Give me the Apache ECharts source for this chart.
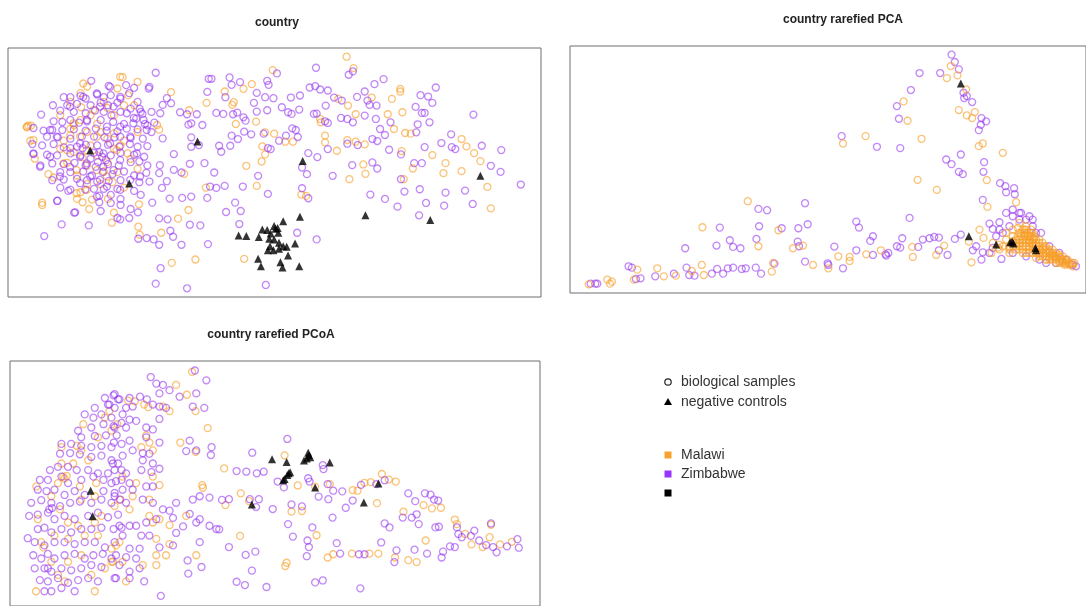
<!DOCTYPE html>
<html>
<head>
<meta charset="utf-8">
<script src="https://cdn.jsdelivr.net/npm/echarts@6/dist/echarts.min.js"></script>
<style>
  html, body { margin: 0; padding: 0; background: #fff; }
  #main { width: 1086px; height: 606px; }
</style>
</head>
<body>
<div id="main"></div>
<script>
// ordination scores (arbitrary units, no axes shown)

// ---- "country" ----
const countryMalawi = [
  [97.2,71.8],[99.2,68.4],[76.0,67.8],[70.0,63.6],[67.6,62.2],[64.8,58.2],[64.4,57.4],[57.0,58.0],[62.2,61.4],[71.2,52.4],
  [73.0,45.0],[73.8,42.6],[72.8,40.5],[79.6,46.4],[81.8,46.4],[89.6,53.2],[91.0,48.2],[91.0,46.2],[94.8,59.2],[97.6,57.2],
  [99.8,54.6],[94.4,43.7],[98.0,35.2],[102.0,39.6],[102.6,36.8],[102.4,45.6],[104.4,59.6],[109.0,54.6],[110.2,59.2],[112.6,62.2],
  [112.6,61.4],[113.2,55.2],[110.8,50.2],[114.0,49.0],[115.6,48.8],[113.0,43.6],[121.8,42.4],[125.6,40.0],[125.0,37.0],[130.2,37.6],
  [130.2,47.2],[131.6,45.0],[133.8,43.0],[135.6,40.6],[137.6,32.9],[138.6,26.5],[116.2,38.4],[113.6,35.2],[85.6,30.2],[84.2,30.6],
  [71.4,33.2],[67.8,11.4],[53.8,11.2],[47.0,10.2],[44.0,19.2],[48.8,23.4],[51.8,26.0],[37.6,27.7],[37.4,21.0],[37.8,18.6],
  [30.4,25.2],[29.8,22.2],[9.8,28.2],[6.6,51.2],[5.8,51.2],[46.8,61.2],[52.0,55.8],[42.8,51.4],[43.4,50.0],[50.6,36.8],
  [56.8,32.7],[68.4,39.2],[65.4,51.7],[73.8,49.2],[76.4,48.8],[89.8,52.2],[97.4,46.9],[99.8,46.4],
  [32.9,65.7],[37.2,64.3],[31.4,62.3],[34.5,60.3],[22.7,62.9],[20.8,60.9],[17.9,58.3],[21.0,56.7],[23.7,54.3],[28.5,56.5],
  [33.3,57.3],[36.2,57.3],[5.4,50.7],[6.4,46.7],[7.7,41.3],[11.6,36.7],[13.1,35.7],[17.0,40.1],[17.9,48.3],[22.7,49.3],
  [25.6,51.7],[30.4,48.9],[32.3,45.3],[34.3,42.9],[21.4,41.7],[18.9,43.3],[23.7,45.3],[28.5,47.3],[19.8,36.3],[22.7,33.7],
  [26.6,33.7],[30.0,34.3],[33.3,32.7],[20.8,31.3],[19.8,29.3],[24.1,29.1],[21.4,28.3],[28.7,29.3],[9.8,27.5],[23.3,26.3],
  [35.2,41.3],[37.2,38.3],[31.4,37.3],[16.0,46.7],[15.0,44.3],[27.5,37.5],[18.9,51.3],[20.8,52.9],[15.0,54.3],[30.4,54.3],
  [27.5,58.3],[37.2,49.3],[33.3,46.7],[25.6,42.3],[22.7,39.3],[28.5,40.3],[17.9,50.3],[26.6,49.3],[30.4,44.3],
  [32.2,65.8],[21.6,63.8],[24.5,55.9],[18.8,51.9],[25.5,47.9],[16.9,43.9],[22.6,43.9],[31.2,43.9],[19.7,37.9],[25.5,37.9],
  [22.6,32.0],[19.7,31.0],[28.4,36.0],[5.4,50.9],[7.3,46.9],[20.7,47.9],[15.9,39.9]
];
const countryZimbabwe = [
  [42.4,67.0],[57.6,65.2],[58.4,65.2],[63.6,65.6],[66.6,64.2],[64.2,63.4],[74.4,64.6],[74.8,63.4],[77.2,66.8],[88.4,68.5],
  [97.8,66.4],[99.0,67.4],[105.2,63.6],[107.8,65.1],[122.8,62.6],[40.6,62.8],[45.6,59.4],[44.4,57.4],[43.7,54.9],[46.8,57.9],
  [57.2,61.3],[62.4,59.7],[71.4,61.0],[73.8,59.7],[70.6,58.0],[76.2,59.4],[81.2,59.6],[83.8,60.2],[86.6,62.6],[88.2,63.0],
  [89.6,62.0],[91.8,61.7],[93.6,59.6],[95.8,58.7],[100.2,59.8],[102.4,61.4],[103.2,58.7],[103.8,57.4],[105.8,57.2],[118.4,60.3],
  [120.6,59.9],[121.8,58.0],[117.0,56.8],[118.8,55.0],[119.6,55.0],[133.6,54.5],[37.8,56.2],[38.6,54.7],[36.1,53.5],[49.4,55.2],
  [51.4,54.6],[54.2,54.6],[51.8,51.5],[55.8,51.4],[52.6,51.9],[59.8,55.0],[61.8,54.7],[64.6,54.6],[65.8,55.1],[67.6,53.7],
  [68.2,52.7],[71.4,55.4],[74.4,55.8],[78.6,56.7],[80.4,55.2],[81.4,54.7],[83.6,56.0],[87.8,54.7],[91.2,57.2],[88.6,54.8],
  [91.0,52.5],[91.8,52.0],[95.6,53.5],[97.4,53.2],[99.0,52.2],[102.4,54.2],[105.6,53.2],[106.8,50.2],[109.8,52.2],[117.6,51.6],
  [121.0,52.2],[44.4,47.4],[47.6,42.7],[52.6,47.7],[52.6,44.9],[54.8,45.4],[60.6,45.2],[61.2,43.4],[63.8,45.2],[64.2,48.2],
  [66.0,47.2],[67.8,49.4],[69.8,48.6],[73.4,48.8],[74.6,44.5],[75.4,44.2],[77.8,46.7],[79.8,48.2],[81.6,50.4],[82.6,49.9],
  [83.2,47.8],[86.2,43.0],[88.8,41.8],[91.8,44.2],[97.4,45.8],[100.4,45.4],[104.6,47.2],[106.0,46.6],[108.2,48.4],[109.4,44.0],
  [112.8,42.6],[117.2,49.2],[119.6,44.8],[124.4,46.0],[127.2,48.6],[127.4,44.8],[128.4,44.2],[136.0,45.2],[141.6,43.9],[116.6,40.0],
  [118.8,40.0],[104.6,40.2],[106.0,38.4],[98.8,39.4],[93.2,36.2],[85.8,36.7],[84.4,38.7],[138.6,39.2],[141.4,37.4],[147.2,33.6],
  [112.8,35.2],[113.8,31.5],[118.2,32.2],[125.6,31.2],[131.2,31.8],[133.4,27.8],[125.2,27.3],[120.0,28.1],[111.8,27.0],[108.2,29.3],
  [104.0,30.6],[118.0,24.4],[86.2,29.5],[84.4,32.5],[74.6,30.8],[71.8,36.2],[67.4,33.0],[62.2,33.2],[58.0,33.0],[59.2,37.2],
  [56.4,40.0],[52.2,39.8],[49.8,37.2],[47.6,38.0],[45.6,34.6],[44.2,32.6],[46.4,29.4],[50.0,29.6],[52.6,30.0],[59.8,32.6],
  [57.2,29.6],[62.6,25.4],[65.2,28.2],[66.8,25.7],[43.6,39.4],[43.4,37.0],[41.4,28.2],[43.4,23.5],[45.8,23.2],[34.8,23.6],
  [31.4,23.6],[32.2,23.2],[15.4,21.7],[23.2,21.4],[10.4,18.2],[19.0,25.2],[14.2,28.8],[46.6,19.8],[47.4,18.0],[41.8,17.2],
  [39.8,17.6],[37.4,17.4],[43.4,15.6],[49.8,15.6],[57.4,15.8],[52.2,21.6],[55.2,21.4],[66.4,21.8],[88.6,17.2],[83.0,19.2],
  [42.4,4.0],[43.8,8.6],[51.4,2.6],[74.0,3.6],
  [23.9,64.6],[28.9,63.1],[33.9,63.3],[36.2,62.5],[40.4,62.3],[16.0,59.7],[17.9,59.7],[20.8,60.1],[22.3,59.3],[25.6,60.5],
  [27.5,59.7],[29.5,60.3],[32.3,59.3],[34.8,60.9],[12.9,57.3],[17.0,57.3],[19.8,57.7],[23.7,57.3],[26.6,58.1],[28.7,57.3],
  [31.4,58.1],[37.2,58.3],[35.2,56.3],[9.5,54.5],[15.0,55.7],[18.9,55.3],[22.3,54.9],[25.0,55.7],[27.5,55.3],[29.7,54.3],
  [32.3,55.3],[38.1,55.3],[41.2,55.3],[13.1,52.5],[15.6,52.3],[17.9,52.9],[20.4,52.1],[22.7,52.5],[26.6,52.9],[30.2,52.3],
  [33.3,51.7],[36.8,53.3],[39.3,51.7],[42.0,52.1],[7.3,50.5],[10.2,49.7],[12.7,49.9],[15.6,49.9],[18.9,50.1],[22.3,49.7],
  [25.2,50.3],[28.3,49.7],[31.4,49.5],[34.1,50.3],[37.2,50.1],[40.0,51.3],[11.2,47.9],[14.3,47.7],[17.9,47.3],[21.2,47.9],
  [24.7,47.9],[27.7,47.7],[30.6,47.7],[35.2,47.5],[38.7,47.3],[41.2,49.3],[7.0,45.7],[9.8,45.3],[13.1,45.7],[16.0,44.7],
  [19.8,44.9],[22.3,45.5],[25.6,45.3],[28.7,45.5],[32.0,44.9],[35.0,45.7],[37.2,44.9],[40.0,45.1],[7.3,42.7],[11.2,42.5],
  [14.1,42.3],[17.9,42.9],[20.8,42.3],[24.7,43.1],[27.0,41.9],[29.5,42.3],[32.3,43.1],[36.2,42.5],[39.1,41.9],[9.3,39.3],
  [12.7,39.9],[16.0,39.7],[19.1,40.1],[22.3,39.3],[25.8,40.3],[28.7,39.7],[31.8,39.3],[35.2,40.3],[37.7,40.5],[40.0,39.3],
  [15.0,37.3],[17.9,37.3],[21.6,37.5],[24.1,36.3],[27.2,37.3],[30.0,36.7],[33.3,37.5],[36.2,36.3],[39.7,37.1],[12.7,34.9],
  [16.0,35.1],[19.8,35.3],[22.7,34.9],[25.6,34.5],[28.9,34.7],[32.3,34.9],[37.7,34.3],[40.6,34.5],[15.0,32.7],[17.9,32.1],
  [22.2,32.1],[24.7,32.3],[27.5,32.3],[31.4,32.3],[36.2,31.7],[14.1,28.7],[17.3,31.7],[26.2,30.3],[29.5,30.5],[32.3,29.3],
  [38.1,30.5],[26.2,28.3],[29.5,28.1],[32.3,27.5],[19.3,25.3],[26.6,25.7],[35.2,26.3],[37.3,25.3],[25.2,38.9],[23.7,41.3],
  [28.1,40.9],[26.2,43.3],[21.4,44.5],[17.9,44.5],
  [29.3,62.8],[25.5,60.8],[21.6,59.8],[32.2,59.8],[17.8,56.9],[26.4,56.9],[30.3,56.9],[34.1,54.9],[22.6,52.9],[28.4,50.9],
  [32.2,50.9],[36.0,51.9],[38.9,52.9],[39.8,49.9],[12.1,49.9],[14.0,47.9],[32.2,47.9],[35.1,47.9],[20.7,45.9],[29.3,45.9],
  [37.0,42.9],[12.1,41.9],[20.7,41.9],[27.4,42.9],[32.2,40.9],[17.8,38.9],[22.6,39.9],[27.4,38.9],[30.3,37.9],[23.6,36.0],
  [26.4,35.0],[20.7,34.0],[28.4,33.0],[25.5,30.0],[32.2,32.0],[35.1,35.0],[37.9,36.0],[14.9,36.0],[9.2,38.9],[7.3,42.9]
];
const countryControls = [
  [23.6,43.8],[34.8,33.9],[54.4,46.5],[84.6,40.6],[83.8,24.0],[102.6,24.4],[121.2,23.0],[135.6,36.2],[66.2,18.4],[68.4,18.2],
  [72.0,17.9],[73.0,20.2],[74.4,20.0],[76.4,21.2],[76.8,20.4],[79.0,22.6],[77.6,19.2],[75.0,17.4],[76.4,17.2],[77.8,16.2],
  [80.0,15.0],[82.4,16.0],[75.2,15.2],[76.2,14.0],[77.8,14.4],[79.0,15.2],[74.6,14.0],[71.8,11.4],[80.4,12.4],[72.6,9.2],
  [78.2,10.4],[78.8,8.8],[83.6,9.2],[77.4,20.6],[75.4,19.0]
];

// ---- "country rarefied PCA" ----
const pcaMalawi = [
  [114.4,68.0],[113.2,64.4],[116.4,65.2],[119.0,61.0],[100.2,57.4],[101.4,51.6],[116.8,54.8],[119.2,53.2],[121.6,54.2],[120.8,52.4],
  [88.8,47.0],[82.0,44.8],[105.6,46.2],[122.8,44.0],[124.0,44.8],[130.0,42.0],[125.2,33.8],[104.4,33.9],[110.2,30.9],[125.4,25.8],
  [134.0,27.2],[53.4,27.5],[39.8,19.7],[62.6,18.8],[56.6,14.0],[67.0,13.4],[70.0,14.2],[61.0,9.0],[73.0,8.4],[80.6,11.0],
  [84.0,9.6],[93.4,12.8],[89.0,11.6],[102.8,13.8],[103.0,10.8],[110.0,11.4],[112.4,14.2],[120.6,9.2],[123.0,19.0],[124.2,16.5],
  [119.8,15.4],[20.2,7.0],[26.2,7.4],[28.2,5.0],[31.8,5.2],[39.6,8.4],[40.2,5.4],[36.6,6.6],[60.6,6.4],[77.6,7.4],
  [84.0,10.8],[5.6,2.6],[11.2,4.0],[12.6,3.4],[12.0,2.8],[19.2,4.0],[128.6,13.6],[126.6,12.0],
  [127.0,15.0],[129.0,14.5],[131.0,16.0],[133.0,17.0],[135.0,18.0],[136.5,19.0],[134.0,15.0],[136.0,16.0],[138.0,17.0],[139.0,18.0],
  [137.0,14.0],[139.0,14.5],[141.0,15.0],[140.0,13.0],[142.0,13.5],[143.0,12.0],[144.0,12.5],[145.0,11.5],[146.0,10.5],[147.0,10.0],
  [148.0,9.5],[149.0,9.0],[150.0,8.5],[151.0,8.0],[132.0,13.5],[135.0,13.0],[138.0,12.0],[141.0,11.5],[144.0,10.5],[147.0,9.0],
  [137.0,20.0],[135.0,21.0],[133.0,19.0],[131.0,18.0],[138.0,15.5],[139.5,16.5],[142.5,14.0],[145.5,11.0],[148.5,8.5],[149.5,10.0],
  [151.5,9.0],[130.0,14.0],[136.0,12.0],[140.0,10.5],[143.0,10.0],[133.0,15.5],[136.5,17.5],[134.5,19.5],[138.5,19.0],[141.5,12.5],
  [144.5,11.5],[147.5,10.5],[129.0,13.0],[132.0,12.0],
  [136.0,19.0],[137.0,19.0],[135.5,18.0],[136.5,18.0],[137.5,18.0],[138.5,18.0],[134.5,17.0],[135.5,17.0],[136.5,17.0],[137.5,17.0],
  [138.5,17.0],[139.5,17.0],[134.0,16.0],[135.0,16.0],[137.0,16.0],[138.0,16.0],[139.0,16.0],[140.0,16.0],[141.0,16.0],[133.0,15.0],
  [135.0,15.0],[136.0,15.0],[137.0,15.0],[138.0,15.0],[139.0,15.0],[140.0,15.0],[142.0,15.0],[132.0,14.0],[133.0,14.0],[134.0,14.0],
  [135.0,14.0],[136.0,14.0],[138.0,14.0],[139.0,14.0],[140.0,14.0],[141.0,14.0],[143.0,14.0],[132.0,13.0],[134.0,13.0],[136.0,13.0],
  [138.0,13.0],[142.0,13.0],[144.0,13.0],[137.0,12.0],[139.0,12.0],[141.0,12.0],[145.0,12.0],[142.0,11.0],[144.0,11.0],[146.0,11.0],
  [147.0,11.0],[145.0,10.0],[148.0,10.0],[149.0,10.0],[148.0,9.0],[150.0,9.0],
  [139.0,13.0],[141.0,13.0],[143.0,13.0],[145.0,13.0],[140.0,12.0],[142.0,12.0],[144.0,12.0],[146.0,12.0],[141.0,11.0],[143.0,11.0],
  [145.0,11.0],[147.0,11.5],[148.0,11.0],[143.0,10.0],[144.0,10.0],[146.0,10.0],[146.0,9.0],[147.0,9.5],[149.0,9.5],[151.0,9.0],
  [149.0,8.5],[150.5,8.5]
];
const pcaZimbabwe = [
  [114.6,71.4],[115.6,69.2],[116.8,67.0],[105.0,65.9],[111.2,65.9],[102.4,60.8],[118.2,60.0],[119.2,59.0],[118.4,58.4],[120.8,57.2],
  [98.2,56.0],[98.8,52.2],[123.6,52.4],[125.0,51.4],[123.4,50.4],[122.8,48.8],[81.6,47.0],[92.2,43.8],[99.2,43.4],[117.4,41.5],
  [113.0,40.0],[114.6,38.6],[124.4,39.2],[116.8,36.3],[118.0,35.6],[124.2,36.3],[129.2,32.9],[130.8,32.0],[133.4,31.4],[131.0,30.2],
  [133.6,29.6],[124.0,27.9],[102.0,22.5],[86.0,21.4],[86.8,19.6],[70.6,26.9],[56.6,25.2],[59.2,24.8],[45.0,19.6],[56.8,20.0],
  [68.6,19.4],[71.4,20.6],[63.6,19.4],[48.0,15.8],[49.0,13.8],[51.2,13.4],[44.0,14.2],[56.0,16.2],[68.4,15.4],[68.8,14.0],
  [34.6,13.4],[79.4,13.9],[91.0,17.0],[90.2,15.6],[95.6,12.0],[94.8,11.6],[98.2,14.0],[99.2,13.6],[99.8,16.4],[106.0,16.0],
  [108.0,16.4],[109.4,16.8],[110.8,16.6],[110.8,12.8],[113.4,11.4],[115.6,16.2],[117.4,17.5],[104.6,13.8],[17.6,8.0],[18.6,7.6],
  [35.0,7.6],[35.8,5.4],[37.4,5.2],[31.2,5.8],[42.6,5.8],[44.2,7.2],[46.0,5.8],[47.4,7.4],[49.0,7.6],[51.6,7.2],
  [52.8,7.4],[55.8,7.6],[57.4,5.8],[61.4,8.8],[70.6,9.4],[77.4,8.9],[77.6,8.4],[82.0,7.4],[86.0,12.8],[91.0,11.4],
  [95.0,11.2],[121.0,12.8],[123.6,10.0],[129.6,10.2],[126.0,20.8],[127.0,19.2],[129.0,21.2],[6.2,2.8],[7.6,2.8],[8.2,2.8],
  [19.8,4.2],[21.2,4.4],[25.6,5.0],[122.0,14.0],[124.0,12.2],
  [131.0,24.0],[133.0,23.0],[135.0,24.0],[137.0,22.0],[139.0,22.0],[132.0,20.0],[130.0,18.0],[128.0,17.0],[126.0,12.0],[127.0,13.5],
  [133.0,12.0],[137.0,11.0],[141.0,10.0],[143.0,9.0],[146.0,9.0],[149.0,10.0],[151.0,8.5],[152.0,8.0],[135.0,22.0],[139.0,20.0],
  [141.5,18.0],[144.0,14.0],[147.0,12.0],[129.0,19.0],[133.0,25.0],[135.5,24.0],[138.0,23.0],[140.0,18.0]
];
const pcaControls = [
  [117.4,62.8],[119.8,17.0],[128.0,14.5],[132.2,15.2],[133.2,14.8],[132.8,15.4],[139.8,13.5],[140.0,12.8]
];

// ---- "country rarefied PCoA" ----
const pcoaMalawi = [
  [79.0,46.0],[61.6,42.0],[82.8,36.8],[87.8,36.4],[92.0,37.2],[100.0,35.2],[102.0,37.6],[103.8,37.8],[107.0,40.3],[109.0,38.6],
  [111.0,38.0],[105.6,31.4],[98.6,35.4],[113.2,28.8],[119.0,30.8],[121.4,29.8],[124.0,30.0],[119.6,20.0],[128.0,26.4],[128.6,25.0],
  [131.0,22.0],[132.8,18.8],[136.0,18.0],[138.0,21.0],[138.4,24.8],[141.0,18.8],[144.4,19.6],[114.6,14.0],[117.0,13.4],[110.8,14.8],
  [103.4,16.0],[106.0,16.0],[98.4,16.0],[91.4,14.8],[93.0,15.8],[84.0,29.0],[81.0,28.8],[79.6,13.2],[79.2,12.2],[88.2,21.6],
  [66.2,21.4],[68.8,32.0],[66.4,34.4],[62.0,30.8],
  [27.3,57.5],[21.1,55.5],[25.3,51.5],[29.2,53.5],[14.8,48.5],[19.2,48.9],[22.5,44.5],[18.2,43.5],[20.5,47.5],[15.3,39.5],
  [15.7,38.9],[16.3,39.7],[7.6,36.5],[13.8,37.5],[24.8,37.5],[20.1,36.5],[11.9,33.5],[20.5,32.5],[24.4,33.5],[14.4,29.5],
  [8.0,26.5],[16.7,25.5],[19.6,24.5],[24.4,25.5],[9.0,19.5],[9.6,17.9],[12.8,21.5],[16.7,20.5],[21.5,21.5],[25.3,21.5],
  [29.2,17.5],[11.9,13.5],[16.7,13.5],[20.5,15.5],[29.2,13.5],[13.8,9.5],[23.4,9.5],[7.5,4.5],[15.7,7.5],[27.3,11.5],
  [24.4,4.5],[30.1,30.5],[26.3,27.5],[14.8,43.5],
  [34.0,62.7],[35.9,62.5],[38.6,61.5],[39.8,60.7],[47.8,67.5],[50.9,64.5],[52.4,71.5],[28.6,59.5],[30.9,55.5],[39.2,52.1],
  [40.1,49.9],[37.8,48.5],[41.1,47.5],[44.0,60.9],[45.9,59.5],[53.4,59.5],[56.9,54.3],[49.0,49.9],[53.4,47.1],[55.3,36.9],
  [55.5,36.1],[43.0,36.9],[41.1,39.5],[32.4,39.5],[36.3,37.5],[35.3,33.5],[31.5,32.5],[40.1,32.5],[34.4,29.5],[40.1,27.5],
  [41.1,25.5],[43.0,26.5],[45.9,24.7],[50.7,27.5],[31.5,19.5],[32.4,13.5],[33.4,7.5],[42.1,20.5],[45.9,18.9],[42.1,15.5],
  [42.1,12.5],[53.6,15.5],[44.9,15.5],[38.2,12.5],[30.5,18.5],[29.6,13.5]
];
const pcoaZimbabwe = [
  [79.8,51.0],[69.7,46.8],[65.2,41.2],[68.0,41.0],[71.0,40.5],[73.0,41.0],[77.0,38.0],[78.8,36.2],[85.8,39.0],[86.2,38.0],
  [90.0,43.0],[90.2,41.8],[91.4,37.2],[93.0,35.2],[95.6,35.0],[96.6,30.0],[98.6,32.2],[101.0,37.0],[105.4,37.2],[107.8,38.4],
  [114.6,34.4],[116.6,32.0],[119.4,34.4],[121.0,34.0],[122.0,32.5],[123.2,32.2],[113.0,27.0],[115.6,27.0],[117.0,28.0],[117.6,25.0],
  [107.8,25.2],[109.2,24.0],[122.4,24.0],[123.4,24.2],[128.6,24.0],[129.0,22.0],[130.0,21.0],[133.6,23.0],[138.4,25.2],[132.6,21.4],
  [135.0,20.0],[137.0,18.6],[139.0,18.0],[140.0,16.4],[143.0,18.2],[146.0,20.4],[146.4,17.8],[128.0,18.0],[126.6,18.2],[124.6,16.6],
  [124.2,14.8],[120.0,16.0],[116.4,17.2],[111.2,17.0],[110.6,13.4],[106.8,19.4],[100.4,15.8],[102.0,15.8],[95.0,16.0],[94.0,19.2],
  [85.6,20.0],[86.0,18.0],[85.4,15.2],[87.0,24.0],[81.4,21.2],[80.0,25.0],[92.8,27.0],[91.6,32.6],[88.8,33.4],[84.0,30.4],
  [81.0,31.0],[75.6,29.6],[69.0,32.6],[71.6,32.6],[70.8,30.2],[63.0,32.6],[61.0,32.4],[60.2,23.4],[63.0,18.0],[67.8,15.6],
  [70.6,16.6],[69.6,10.8],[65.2,7.4],[67.6,6.4],[73.8,5.8],[87.8,7.2],[90.0,7.8],[100.8,5.4],
  [27.3,63.5],[29.8,64.3],[31.1,63.1],[24.4,60.5],[28.2,61.5],[30.1,60.5],[21.5,58.5],[24.0,57.5],[26.3,58.5],[29.2,57.5],
  [19.6,53.5],[23.4,54.5],[26.9,55.5],[29.8,54.9],[32.1,55.9],[20.5,51.5],[24.4,51.9],[27.6,52.1],[30.7,52.1],[14.8,49.5],
  [17.6,49.5],[20.5,48.9],[23.4,48.5],[26.3,48.9],[29.2,48.5],[32.1,49.5],[14.4,46.5],[17.3,46.7],[20.1,46.3],[23.4,45.5],
  [26.3,45.9],[29.2,44.5],[31.1,43.5],[11.5,41.5],[13.8,42.5],[16.7,42.5],[19.2,41.5],[22.5,41.5],[25.3,40.5],[28.2,40.5],
  [30.1,41.5],[8.6,38.5],[10.9,38.5],[14.8,39.5],[16.7,37.5],[20.5,38.5],[24.0,39.5],[26.9,38.5],[29.2,37.5],[32.1,38.5],
  [8.0,35.5],[10.5,35.1],[12.8,35.5],[15.7,33.9],[18.6,35.1],[21.5,33.9],[26.9,35.1],[30.1,34.5],[6.1,31.5],[9.0,32.3],
  [11.9,31.5],[14.4,30.5],[17.3,31.5],[20.1,31.9],[23.4,31.5],[26.3,32.5],[29.2,31.5],[31.7,32.5],[5.5,27.5],[8.0,27.9],
  [10.9,28.5],[12.8,26.5],[15.7,27.5],[18.6,26.5],[22.5,27.5],[25.3,28.5],[28.2,27.1],[31.1,27.9],[5.1,20.7],[8.0,23.5],
  [9.9,23.9],[11.9,22.5],[14.8,23.5],[17.6,22.5],[20.5,23.5],[23.4,23.5],[26.3,23.9],[29.8,23.5],[32.1,23.9],[7.1,19.5],
  [9.9,18.5],[12.8,19.5],[15.7,19.5],[18.6,18.9],[21.5,19.5],[24.4,19.5],[27.3,17.9],[30.1,19.5],[6.7,15.5],[9.0,14.5],
  [10.9,15.9],[12.8,14.5],[15.7,15.5],[18.6,15.9],[21.5,14.5],[24.0,15.5],[26.7,15.9],[29.2,14.5],[7.1,11.5],[9.9,11.5],
  [11.9,10.5],[14.8,11.5],[17.6,10.9],[20.5,11.5],[23.4,12.5],[26.3,11.9],[8.6,7.9],[10.9,7.5],[13.8,8.5],[16.7,7.1],
  [19.6,7.9],[22.5,8.5],[25.3,7.5],[30.1,8.5],[9.9,4.5],[11.9,4.5],[14.8,5.5],[18.6,4.5],[10.9,11.5],[11.3,29.5],
  [12.1,29.9],
  [40.5,69.9],[42.1,67.9],[44.0,67.5],[45.9,65.9],[43.0,64.9],[30.1,64.7],[31.5,63.1],[34.4,63.5],[37.4,63.9],[39.4,63.1],
  [48.8,63.9],[53.6,64.9],[56.5,68.9],[53.2,71.9],[28.6,61.5],[33.4,60.5],[35.3,60.9],[41.1,61.5],[43.0,60.9],[44.9,60.5],
  [32.4,58.5],[34.4,56.9],[36.3,56.5],[43.0,57.1],[30.1,54.5],[33.4,54.5],[39.2,54.5],[41.1,53.9],[52.6,60.9],[55.9,60.5],
  [51.7,50.5],[50.7,47.3],[53.6,47.5],[58.0,48.5],[57.8,46.1],[39.2,51.5],[43.0,49.9],[29.9,49.9],[34.4,50.5],[35.3,47.5],
  [32.4,45.9],[38.2,46.7],[40.1,46.5],[41.1,43.5],[38.2,44.5],[29.6,43.5],[32.1,41.5],[33.4,40.5],[37.8,41.5],[40.7,40.9],
  [43.0,41.9],[30.5,38.1],[34.4,37.5],[39.2,36.5],[41.1,36.5],[35.3,35.5],[32.4,35.5],[30.1,33.5],[33.4,31.5],[38.2,32.5],
  [41.1,31.5],[44.0,29.5],[45.9,29.1],[47.8,31.5],[52.6,32.5],[54.6,33.5],[57.4,33.1],[53.6,25.5],[54.6,26.5],[57.4,24.5],
  [59.4,23.5],[49.8,24.3],[51.7,28.1],[47.8,22.3],[46.9,26.9],[42.1,26.5],[39.2,25.5],[36.3,24.5],[34.4,24.5],[31.5,24.5],
  [32.4,21.5],[37.8,21.5],[40.1,21.5],[34.4,17.5],[37.3,17.5],[43.0,17.9],[46.9,18.5],[30.5,15.5],[33.4,14.9],[36.3,14.5],
  [31.5,12.5],[34.4,10.5],[37.3,11.5],[30.5,8.5],[34.4,8.5],[38.6,7.5],[43.4,3.1],[51.1,13.9],[55.1,11.9],[51.3,9.9],
  [54.6,19.5]
];
const pcoaControls = [
  [23.2,35.2],[23.8,27.4],[69.6,31.0],[75.4,44.8],[79.6,44.0],[85.8,46.8],[86.0,46.0],[85.4,45.0],[84.6,44.4],[86.4,45.4],
  [92.0,43.8],[80.2,40.5],[79.8,40.0],[79.0,38.8],[78.6,38.4],[80.6,40.8],[87.8,36.2],[106.0,37.4],[101.8,31.6]
];

const panelTitles = ['country', 'country rarefied PCA', 'country rarefied PCoA'];
const legendShapes = ['biological samples', 'negative controls'];
const legendGroups = ['Malawi', 'Zimbabwe', ''];

const ORANGE = 'rgba(247,158,40,0.78)';
const PURPLE = 'rgba(148,48,240,0.72)';
const FONT = 'Liberation Sans, Arial, sans-serif';

const chart = echarts.init(document.getElementById('main'), null, { renderer: 'canvas' });

function rings(data, color, gi) {
  return {
    type: 'scatter', xAxisIndex: gi, yAxisIndex: gi, data: data,
    symbol: 'circle', symbolSize: 7, silent: true, animation: false,
    itemStyle: { color: 'rgba(0,0,0,0)', borderColor: color, borderWidth: 1.3 }
  };
}
function controls(data, gi) {
  return {
    type: 'scatter', xAxisIndex: gi, yAxisIndex: gi, data: data,
    symbol: 'triangle', symbolSize: 8, silent: true, animation: false,
    itemStyle: { color: '#000' }
  };
}
function axisX(gi, max) {
  return { type: 'value', gridIndex: gi, min: 0, max: max, show: false, splitLine: { show: false } };
}
function axisY(gi, max) {
  return { type: 'value', gridIndex: gi, min: 0, max: max, show: false, splitLine: { show: false } };
}

const gridStyle = { show: true, borderColor: '#6f6f6f', borderWidth: 1, backgroundColor: '#fff' };

// legend drawn as shapes + text
const lx = 668;
const legendItems = [
  { type: 'circle', shape: { cx: lx, cy: 382, r: 3.2 }, style: { fill: 'none', stroke: '#222', lineWidth: 1.2 } },
  { type: 'polygon', shape: { points: [[lx - 4, 405], [lx + 4, 405], [lx, 398]] }, style: { fill: '#000' } },
  { type: 'rect', shape: { x: lx - 3.5, y: 451.5, width: 7, height: 7 }, style: { fill: '#f7a22e' } },
  { type: 'rect', shape: { x: lx - 3.5, y: 470.5, width: 7, height: 7 }, style: { fill: '#9933ff' } },
  { type: 'rect', shape: { x: lx - 3.5, y: 489.5, width: 7, height: 7 }, style: { fill: '#000' } }
];
const legendText = [legendShapes[0], legendShapes[1], legendGroups[0], legendGroups[1], legendGroups[2]];
const legendY = [382, 402, 455, 474, 493];
legendText.forEach(function (t, i) {
  legendItems.push({
    type: 'text', x: 681, y: legendY[i],
    style: { text: t, fill: '#333', font: '14px ' + FONT, textVerticalAlign: 'middle', verticalAlign: 'middle' }
  });
});

const option = {
  backgroundColor: '#fff',
  animation: false,
  title: [
    { text: panelTitles[0], left: 272, top: 12, textAlign: 'center', textStyle: { fontSize: 12, fontWeight: 'bold', color: '#222', fontFamily: FONT } },
    { text: panelTitles[1], left: 838, top: 9, textAlign: 'center', textStyle: { fontSize: 12, fontWeight: 'bold', color: '#222', fontFamily: FONT } },
    { text: panelTitles[2], left: 266, top: 324, textAlign: 'center', textStyle: { fontSize: 12, fontWeight: 'bold', color: '#222', fontFamily: FONT } }
  ],
  grid: [
    Object.assign({ left: 8, top: 48, width: 533, height: 249 }, gridStyle),
    Object.assign({ left: 570, top: 46, width: 520, height: 247 }, gridStyle),
    Object.assign({ left: 10, top: 361, width: 530, height: 249 }, gridStyle)
  ],
  xAxis: [axisX(0, 153), axisX(1, 155), axisX(2, 152.5)],
  yAxis: [axisY(0, 74.4), axisY(1, 74), axisY(2, 74.8)],
  series: [
    rings(countryMalawi, ORANGE, 0),
    rings(countryZimbabwe, PURPLE, 0),
    controls(countryControls, 0),
    rings(pcaZimbabwe, PURPLE, 1),
    rings(pcaMalawi, ORANGE, 1),
    controls(pcaControls, 1),
    rings(pcoaMalawi, ORANGE, 2),
    rings(pcoaZimbabwe, PURPLE, 2),
    controls(pcoaControls, 2)
  ],
  graphic: legendItems
};

chart.setOption(option);
</script>
</body>
</html>
